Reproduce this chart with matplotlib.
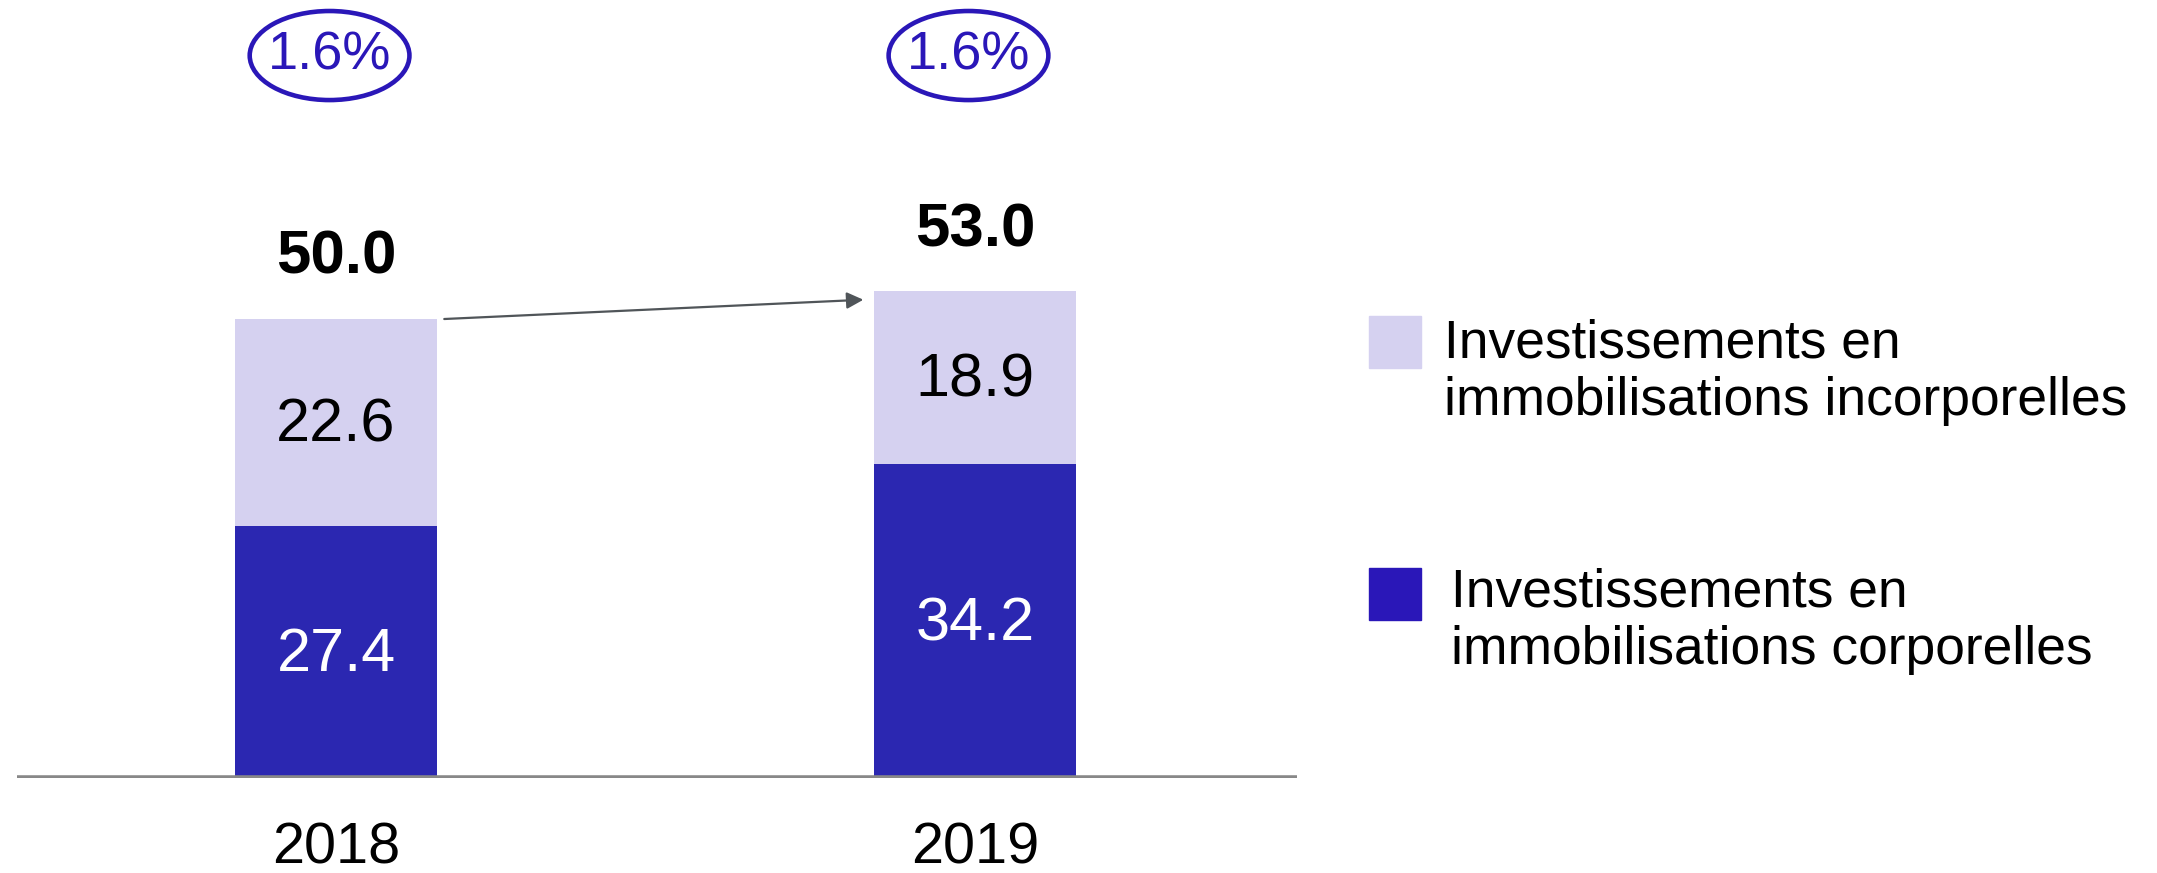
import matplotlib.pyplot as plt
from matplotlib.patches import Ellipse, Rectangle

plt.rcParams["font.family"] = ["Liberation Sans", "DejaVu Sans"]

years = ["2018", "2019"]
corporelles = [27.4, 34.2]
incorporelles = [22.6, 18.9]
totals = [50.0, 53.0]
ratios = ["1.6%", "1.6%"]
legend_labels = [
    "Investissements en\nimmobilisations incorporelles",
    "Investissements en\nimmobilisations corporelles",
]

dark = "#2B27B1"
light = "#D5D1F0"
ring = "#2A17B8"

fig = plt.figure(figsize=(21.57, 8.73), dpi=100)
ax = fig.add_axes([0.00765, 0.1088, 0.5936, 0.8912])
ax.set_xlim(-0.5, 1.504)
ax.set_ylim(0, 84.75)
ax.axis("off")

x = list(range(len(years)))
w = 0.315
ax.bar(x, corporelles, width=w, color=dark)
ax.bar(x, incorporelles, width=w, bottom=corporelles, color=light)
ax.axhline(0, color="#888888", lw=4, zorder=3)

for i in x:
    ax.text(i, corporelles[i] / 2 - 0.4, f"{corporelles[i]:.1f}",
            ha="center", va="center", color="white", fontsize=44)
    ax.text(i, corporelles[i] + incorporelles[i] / 2 - 0.4, f"{incorporelles[i]:.1f}",
            ha="center", va="center", color="black", fontsize=44)
    ax.text(i, totals[i] + 6.6, f"{totals[i]:.1f}",
            ha="center", va="center", color="black", fontsize=44.5, fontweight="bold")
    ax.text(i, -7.7, years[i], ha="center", va="center", fontsize=41.5)
    # ratio bubble
    ax.add_patch(Ellipse((i - 0.01, 78.7), 0.25, 9.7, fill=False,
                         edgecolor=ring, lw=3.3, clip_on=False))
    ax.text(i - 0.01, 78.7, ratios[i], ha="center", va="center",
            color=ring, fontsize=39)

# growth arrow between bar tops
ax.annotate("", xy=(1 - w / 2 - 0.017, totals[1] - 0.9), xytext=(w / 2 + 0.012, totals[0]),
            arrowprops=dict(arrowstyle="-|>", color="#505559", lw=1.6,
                            mutation_scale=25, shrinkA=0, shrinkB=0))

# legend
W, H = 2157, 873
boxes = [(1369, 316, light), (1369, 568, ring)]
text_pos = [(1444, 372), (1451, 621)]
for (bx, by, c), (tx, ty), lab in zip(boxes, text_pos, legend_labels):
    fig.patches.append(Rectangle((bx / W, 1 - (by + 52) / H), 52 / W, 52 / H,
                                 transform=fig.transFigure, color=c))
    fig.text(tx / W, 1 - ty / H, lab, ha="left", va="center", fontsize=38.4,
             linespacing=1.2)

fig.savefig("out.png", dpi=100)
